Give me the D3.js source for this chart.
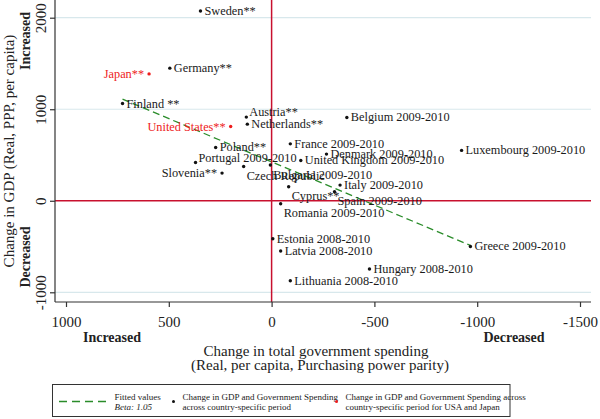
<!DOCTYPE html>
<html><head><meta charset="utf-8">
<script src="https://cdn.jsdelivr.net/npm/d3@7"></script>
<style>
html,body{margin:0;padding:0;background:#fff;}
svg{display:block;font-family:"Liberation Serif","Times New Roman",serif;}
</style></head>
<body>
<svg id="chart" width="600" height="419"></svg>
<script>
// ---- data ----
const countries = ["Sweden**","Germany**","Japan**","Finland **","Austria**","Netherlands**","United States**",
  "Poland**","Portugal 2009-2010","Slovenia**","Czech Republic","Bulgaria 2009-2010","France 2009-2010",
  "Denmark 2009-2010","United Kingdom 2009-2010","Luxembourg 2009-2010","Belgium 2009-2010","Italy 2009-2010",
  "Cyprus**","Spain 2009-2010","Romania 2009-2010","Estonia 2008-2010","Latvia 2008-2010","Hungary 2008-2010",
  "Lithuania 2008-2010","Greece 2009-2010"];
// change in government spending (x) and change in GDP (y)
const spending = [346,495,596,725,123,118,199,272,370,241,136,6,-91,-267,-142,-924,-366,-333,-83,-306,-44,-6,-44,-476,-91,-967];
const gdp      = [2074,1449,1386,1062,914,837,811,582,418,302,375,390,622,510,440,550,910,171,153,98,-33,-415,-549,-746,-873,-499];
const highlighted = [0,0,1,0,0,0,1,0,0,0,0,0,0,0,0,0,0,0,0,0,0,0,0,0,0,0];
// label placement (clock position, Stata style)
const labelPos = [3,3,9,3,2,3,9,3,2,9,4,4,3,3,3,3,3,3,4,4,4,3,3,3,3,3];
// fitted line end points
const fitX = [725,-967];
const fitY = [1110,-488];
const xTicks = [1000,500,0,-500,-1000,-1500];
const yTicks = [2000,1000,0,-1000];
const gridY = [2000,1000,-1000];

// ---- layout ----
const svg = d3.select("#chart");
const P = {l:55, r:591, t:0, b:302};
const x = d3.scaleLinear().domain([1000,-1500]).range([66,580]);
const y = d3.scaleLinear().domain([2000,-1000]).range([17.7,292.3]);
const RED_LINE = "#c8102e", GRID = "#d8e8ec", GREEN = "#2a8c2a", DOT_RED = "#ee1c1c";

// grid
svg.append("g").selectAll("line").data(gridY).join("line")
  .attr("x1",P.l).attr("x2",P.r).attr("y1",d=>y(d)).attr("y2",d=>y(d))
  .attr("stroke",GRID).attr("stroke-width",1.2);

// reference lines at 0
svg.append("line").attr("x1",x(0)).attr("x2",x(0)).attr("y1",P.t).attr("y2",P.b)
  .attr("stroke",RED_LINE).attr("stroke-width",1.5);
svg.append("line").attr("x1",P.l).attr("x2",P.r).attr("y1",y(0)).attr("y2",y(0))
  .attr("stroke",RED_LINE).attr("stroke-width",1.5);

// fitted line
svg.append("line").attr("x1",x(fitX[0])).attr("y1",y(fitY[0])).attr("x2",x(fitX[1])).attr("y2",y(fitY[1]))
  .attr("stroke",GREEN).attr("stroke-width",1.3).attr("stroke-dasharray","7,4");

// axes
const xAxis = svg.append("g").attr("transform",`translate(0,${P.b})`)
  .call(d3.axisBottom(x).tickValues(xTicks).tickSize(5).tickFormat(d3.format("d")));
xAxis.select(".domain").attr("d",`M${P.l},0H${P.r}`).attr("stroke","#333").attr("stroke-width",1.2);
xAxis.selectAll(".tick line").attr("stroke","#333").attr("stroke-width",1.2);
xAxis.selectAll(".tick text").attr("font-size",15).attr("font-family","Liberation Serif, serif")
  .attr("fill","#222").attr("y",0).attr("dy",0).attr("transform","translate(0,25)")
  .text(d=>d===0?"0":d3.format("d")(d).replace("−","-"));

const yAxis = svg.append("g").attr("transform",`translate(${P.l},0)`)
  .call(d3.axisLeft(y).tickValues(yTicks).tickSize(5).tickFormat(d3.format("d")));
yAxis.select(".domain").attr("d",`M0,${P.t}V${P.b}`).attr("stroke","#333").attr("stroke-width",1.2);
yAxis.selectAll(".tick line").attr("stroke","#333").attr("stroke-width",1.2);
yAxis.selectAll(".tick text").attr("font-size",15).attr("font-family","Liberation Serif, serif")
  .attr("fill","#222").attr("x",null).attr("dy",null).attr("text-anchor","middle")
  .attr("transform","translate(-9,0) rotate(-90)").attr("y",0)
  .text(d=>d3.format("d")(d).replace("−","-"));

// axis titles
const tcol = "#222";
svg.append("text").attr("transform","translate(14,151) rotate(-90)").attr("text-anchor","middle")
  .attr("font-size",15).attr("fill",tcol).text("Change in GDP (Real, PPP, per capita)");
svg.append("text").attr("transform","translate(29.5,41) rotate(-90)").attr("text-anchor","middle")
  .attr("font-size",14).attr("font-weight","bold").attr("fill",tcol).text("Increased");
svg.append("text").attr("transform","translate(29.5,257) rotate(-90)").attr("text-anchor","middle")
  .attr("font-size",14).attr("font-weight","bold").attr("fill",tcol).text("Decreased");
svg.append("text").attr("x",112).attr("y",341.5).attr("text-anchor","middle")
  .attr("font-size",14).attr("font-weight","bold").attr("fill",tcol).text("Increased");
svg.append("text").attr("x",514).attr("y",341.5).attr("text-anchor","middle")
  .attr("font-size",14).attr("font-weight","bold").attr("fill",tcol).text("Decreased");
svg.append("text").attr("x",316).attr("y",356).attr("text-anchor","middle")
  .attr("font-size",15).attr("fill",tcol).text("Change in total government spending");
svg.append("text").attr("x",320).attr("y",369.5).attr("text-anchor","middle")
  .attr("font-size",15).attr("fill",tcol).text("(Real, per capita, Purchasing power parity)");

// points
const pts = countries.map((c,i)=>({name:c, sx:spending[i], gy:gdp[i], hl:highlighted[i], pos:labelPos[i]}));
const g = svg.append("g");
g.selectAll("circle").data(pts).join("circle")
  .attr("cx",d=>x(d.sx)).attr("cy",d=>y(d.gy)).attr("r",1.7)
  .attr("fill",d=>d.hl?DOT_RED:"#111");
const off = {3:[4,0,"start"],9:[-5,0,"end"],2:[3,-5,"start"],4:[3,9.5,"start"]};
g.selectAll("text").data(pts).join("text")
  .attr("x",d=>x(d.sx)+off[d.pos][0]).attr("y",d=>y(d.gy)+off[d.pos][1]+4)
  .attr("text-anchor",d=>off[d.pos][2]).attr("font-size",12.3)
  .attr("fill",d=>d.hl?DOT_RED:"#1a1a1a").text(d=>d.name);

// legend
const L = svg.append("g");
L.append("rect").attr("x",52.5).attr("y",384.5).attr("width",457.5).attr("height",32)
  .attr("fill","#fff").attr("stroke","#333").attr("stroke-width",1);
L.append("line").attr("x1",59).attr("x2",108).attr("y1",401.5).attr("y2",401.5)
  .attr("stroke",GREEN).attr("stroke-width",1.3).attr("stroke-dasharray","8,5");
L.append("text").attr("x",114.5).attr("y",399.5).attr("font-size",9).attr("fill",tcol).text("Fitted values");
L.append("text").attr("x",114.5).attr("y",410).attr("font-size",9).attr("font-style","italic").attr("fill",tcol).text("Beta: 1.05");
L.append("circle").attr("cx",173.5).attr("cy",401.5).attr("r",1.5).attr("fill","#111");
L.append("text").attr("x",182.5).attr("y",399.5).attr("font-size",9).attr("fill",tcol).text("Change in GDP and Government Spending");
L.append("text").attr("x",182.5).attr("y",410).attr("font-size",9).attr("fill",tcol).text("across country-specific period");
L.append("circle").attr("cx",336.5).attr("cy",401.5).attr("r",1.5).attr("fill",DOT_RED);
L.append("text").attr("x",345.5).attr("y",399.5).attr("font-size",9).attr("fill",tcol).text("Change in GDP and Government Spending across");
L.append("text").attr("x",345.5).attr("y",410).attr("font-size",9).attr("fill",tcol).text("country-specific period for USA and Japan");
</script>
</body></html>
